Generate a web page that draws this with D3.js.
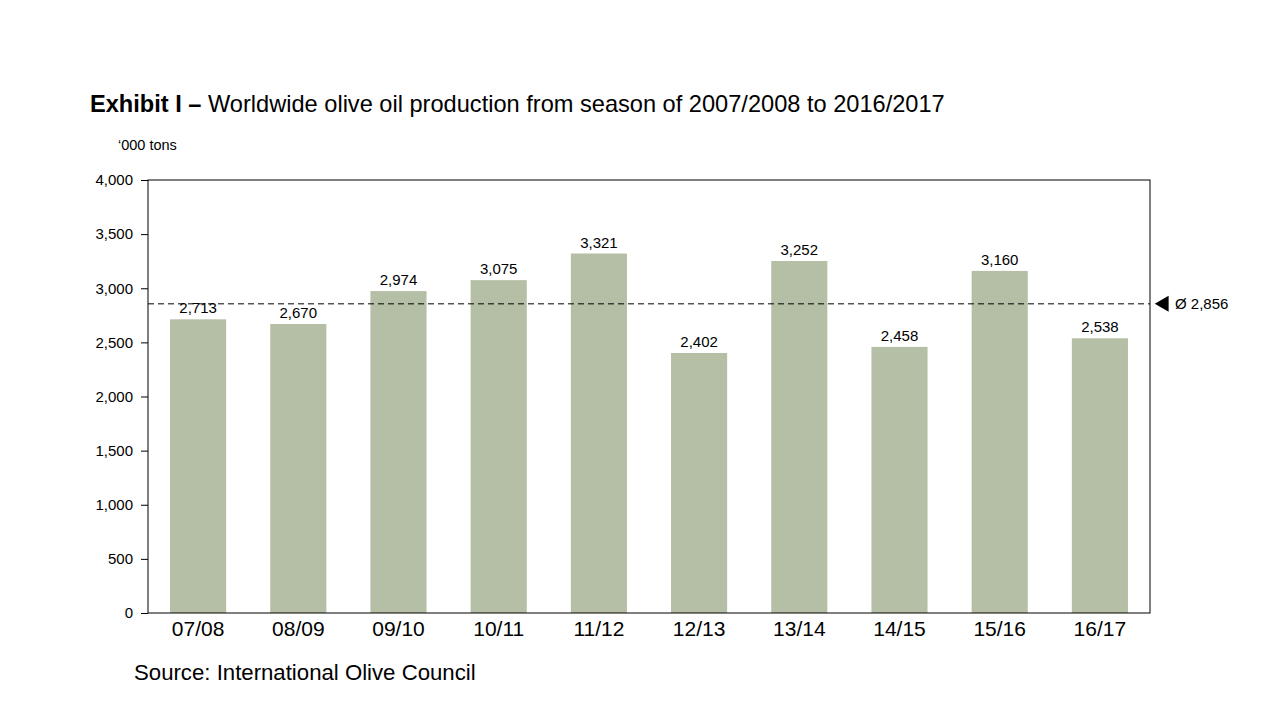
<!DOCTYPE html>
<html>
<head>
<meta charset="utf-8">
<script src="https://cdn.jsdelivr.net/npm/d3@7"></script>
<style>
  body { margin: 0; background: #fff; }
  svg { font-family: "Liberation Sans Narrow", "Arial Narrow", "Liberation Sans", sans-serif; }
</style>
</head>
<body>
<svg id="chart" width="1280" height="720"></svg>
<script>
const seasons = ["07/08", "08/09", "09/10", "10/11", "11/12", "12/13", "13/14", "14/15", "15/16", "16/17"];
const production = [2713, 2670, 2974, 3075, 3321, 2402, 3252, 2458, 3160, 2538];
const average = 2856;
const yTicks = [0, 500, 1000, 1500, 2000, 2500, 3000, 3500, 4000];

const svg = d3.select("#chart");
const margin = { left: 148, right: 130, top: 180, bottom: 107 };
const W = 1280 - margin.left - margin.right;
const H = 720 - margin.top - margin.bottom;
const fmt = d3.format(",");

const x = d3.scaleBand().domain(seasons).range([0, W]).paddingInner(0.44).paddingOuter(0.22);
const y = d3.scaleLinear().domain([0, 4000]).range([H, 0]);

// title
const title = svg.append("text").attr("x", 90).attr("y", 112).attr("font-size", 23.6).attr("fill", "#000");
title.append("tspan").attr("font-weight", "bold").text("Exhibit I \u2013 ");
title.append("tspan").text("Worldwide olive oil production from season of 2007/2008 to 2016/2017");

svg.append("text").attr("x", 118).attr("y", 150).attr("font-size", 14.5).text("\u2018000 tons");

const g = svg.append("g").attr("transform", `translate(${margin.left},${margin.top})`);

g.selectAll(".bar")
  .data(production)
  .join("rect")
  .attr("class", "bar")
  .attr("x", (d, i) => x(seasons[i]))
  .attr("y", d => y(d))
  .attr("width", x.bandwidth())
  .attr("height", d => H - y(d))
  .attr("fill", "#b5bfa5");

g.selectAll(".bar-label")
  .data(production)
  .join("text")
  .attr("class", "bar-label")
  .attr("x", (d, i) => x(seasons[i]) + x.bandwidth() / 2)
  .attr("y", d => y(d) - 6)
  .attr("text-anchor", "middle")
  .attr("font-size", 15)
  .text(d => fmt(d));

// frame
g.append("rect").attr("width", W).attr("height", H).attr("fill", "none").attr("stroke", "#000").attr("stroke-width", 1);

// y axis
const yAxis = d3.axisLeft(y).tickValues(yTicks).tickSize(7).tickPadding(8).tickFormat(fmt);
const ya = g.append("g").call(yAxis);
ya.select(".domain").remove();
ya.selectAll("text").attr("font-size", 15).attr("font-family", null);

// x axis
const xAxis = d3.axisBottom(x).tickSize(0).tickPadding(8);
const xa = g.append("g").attr("transform", `translate(0,${H})`).call(xAxis);
xa.select(".domain").remove();
xa.selectAll("text").attr("font-size", 21).attr("font-family", null);

// average line
g.append("line")
  .attr("x1", 0).attr("x2", W)
  .attr("y1", y(average)).attr("y2", y(average))
  .attr("stroke", "#000").attr("stroke-dasharray", "6,4");

g.append("path")
  .attr("d", d3.symbol(d3.symbolTriangle, 110)())
  .attr("transform", `translate(${W + 14},${y(average)}) rotate(-90)`)
  .attr("fill", "#000");

g.append("text")
  .attr("x", W + 25).attr("y", y(average))
  .attr("dy", "0.35em").attr("font-size", 15)
  .text("\u00d8 " + fmt(average));

svg.append("text").attr("x", 134).attr("y", 680).attr("font-size", 22.2).text("Source: International Olive Council");
</script>
</body>
</html>
